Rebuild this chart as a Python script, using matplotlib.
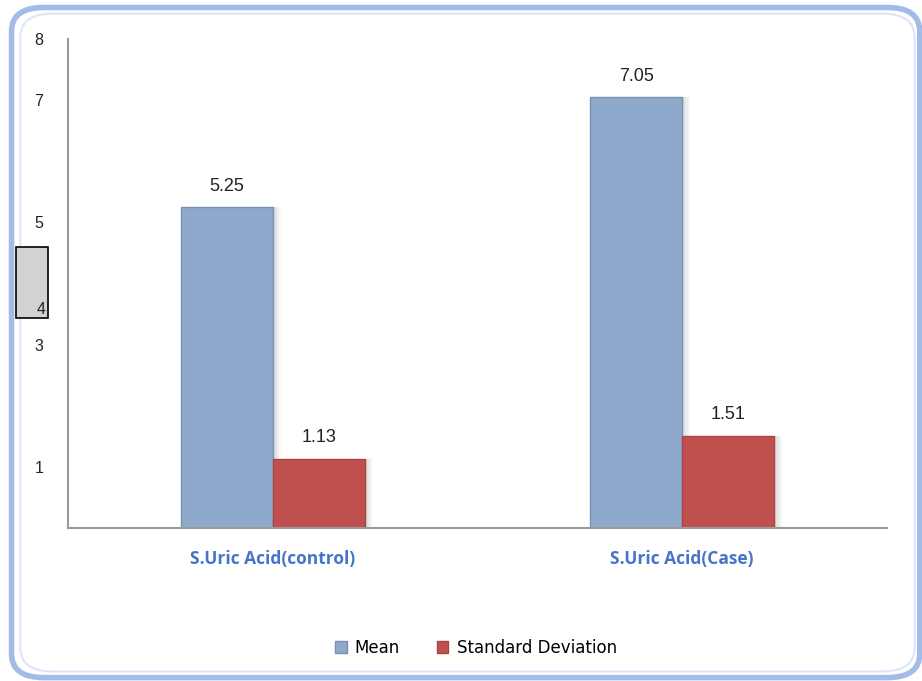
import matplotlib.pyplot as plt
import numpy as np
from matplotlib.patches import FancyBboxPatch, Rectangle
from matplotlib.transforms import ScaledTranslation

categories = ["S.Uric Acid(control)", "S.Uric Acid(Case)"]
mean_vals = [5.25, 7.05]
sd_vals = [1.13, 1.51]
series_names = ["Mean", "Standard Deviation"]
ytick_vals = [1, 3, 4, 5, 7, 8]
ytick_labels = ["1", "3", "4", "5", "7", "8"]

blue = "#8ea9cc"
red = "#c0504d"

fig = plt.figure(figsize=(9.22, 6.81), dpi=100)
fig.patch.set_facecolor("white")

# rounded chart-area frame
for (x0, y0, x1, y1), lw, col in [((0.0125, 0.005, 0.9975, 0.989), 4.0, "#a3bbe8"),
                                  ((0.022, 0.014, 0.992, 0.980), 1.5, "#dde6f7")]:
    fig.patches.append(FancyBboxPatch(
        (x0, y0), x1 - x0, y1 - y0,
        boxstyle="round,pad=0,rounding_size=0.035",
        transform=fig.transFigure, facecolor="none", edgecolor=col,
        linewidth=lw, zorder=-1))

ax = fig.add_axes([0.0738, 0.2247, 0.8882, 0.718])
ax.patch.set_alpha(0)
x = np.arange(len(categories))
w = 0.225

# soft shadow behind the bars
for k in range(6):
    off = 0.004 + k * 0.003
    ax.bar(x - w / 2 + off, mean_vals, w, color="black", alpha=0.025, zorder=1)
    ax.bar(x + w / 2 + off, sd_vals, w, color="black", alpha=0.025, zorder=1)

b1 = ax.bar(x - w / 2, mean_vals, w, color=blue, edgecolor="#7890b2",
            linewidth=1.0, label=series_names[0], zorder=2)
b2 = ax.bar(x + w / 2, sd_vals, w, color=red, edgecolor="#a94542",
            linewidth=1.0, label=series_names[1], zorder=2)

for bars, vals in [(b1, mean_vals), (b2, sd_vals)]:
    for r, v in zip(bars, vals):
        ax.annotate(f"{v:.2f}", (r.get_x() + r.get_width() / 2, v),
                    xytext=(0, 9), textcoords="offset points",
                    ha="center", va="bottom", fontsize=13, color="#222222",
                    family="Liberation Sans")

ax.set_xlim(-0.5, 1.5)
ax.set_ylim(0, 8)
ax.set_xticks(x)
ax.set_xticklabels(categories, fontsize=12.5, fontweight="bold",
                   color="#4574c8", family="Open Sans")
ax.set_yticks(ytick_vals)
ax.set_yticklabels(ytick_labels, fontsize=11.5, color="#222222",
                   family="Liberation Sans")
ax.tick_params(axis="both", length=0)
ax.tick_params(axis="x", pad=16)
ax.tick_params(axis="y", pad=21)
for lab in ax.get_yticklabels():
    lab.set_horizontalalignment("center")

for s in ["top", "right"]:
    ax.spines[s].set_visible(False)
for s in ["left", "bottom"]:
    ax.spines[s].set_color("#9a9a9a")
    ax.spines[s].set_linewidth(1.5)

# the small grey box sitting over the "4" label
ax.add_patch(Rectangle((0.0175, 0.5335), 0.035, 0.1035,
                       transform=fig.transFigure, facecolor="#d2d2d2",
                       edgecolor="black", linewidth=1.2, zorder=0.5,
                       clip_on=False))
for lab in ax.get_yticklabels():
    if lab.get_text() == "4":
        lab.set_transform(lab.get_transform() +
                          ScaledTranslation(0.02, -0.24, fig.dpi_scale_trans))

ax.legend(loc="center", bbox_to_anchor=(0.498, -0.245), ncol=2, frameon=False,
          fontsize=12, handlelength=0.7, handleheight=0.7,
          handletextpad=0.5, columnspacing=2.2)

fig.savefig("out.png", dpi=100)
